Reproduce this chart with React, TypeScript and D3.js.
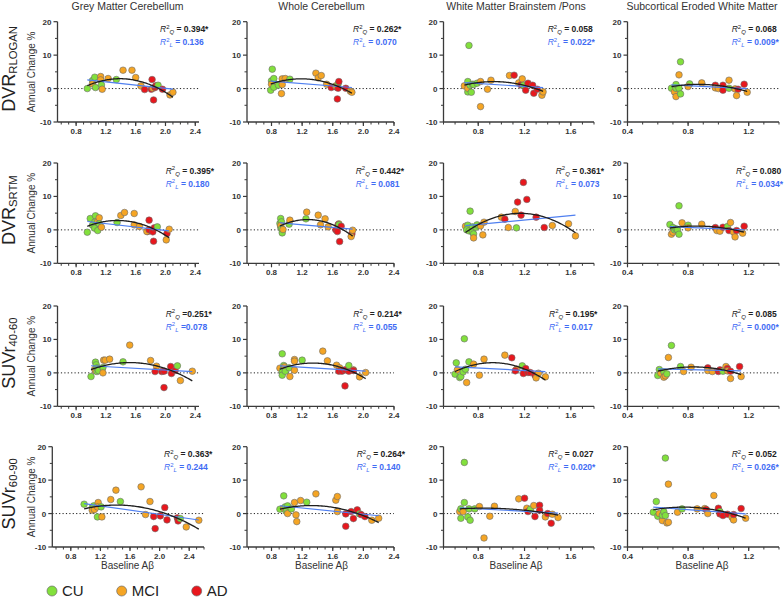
import React from 'react';
import * as d3 from 'd3';

// ---------- data ----------
const groups = ['CU', 'MCI', 'AD'];
const groupColors = ['#82e03c', '#f5a524', '#e8171d'];
const colTitles = ['Grey Matter Cerebellum', 'Whole Cerebellum', 'White Matter Brainstem /Pons', 'Subcortical Eroded White Matter'];
const rowMain = ['DVR', 'DVR', 'SUVr', 'SUVr'];
const rowSub = ['RLOGAN', 'SRTM', '40-60', '60-90'];
const yTicksMajor = [-10, 0, 10, 20];
const yTicksMinor = [-5, 5, 15];
const xTickLabels = [0.4, 0.8, 1.2, 1.6, 2.0, 2.4];

const rQ = [
  ['0.394*', '0.262*', '0.058', '0.068'],
  ['0.395*', '0.442*', '0.361*', '0.080'],
  ['0.251*', '0.214*', '0.195*', '0.085'],
  ['0.363*', '0.264*', '0.027', '0.052'],
];
const rL = [
  ['0.136', '0.070', '0.022*', '0.009*'],
  ['0.180', '0.081', '0.073', '0.034*'],
  ['0.078', '0.055', '0.017', '0.000*'],
  ['0.244', '0.140', '0.020*', '0.026*'],
];

type Pt = [number, number, number];

const p11: Pt[] = [[0.95,0.0,0],[1.02,2.4,0],[1.05,3.4,0],[1.02,1.4,1],[1.06,0.3,0],[1.13,3.6,1],[1.13,2.6,1],[1.14,1.1,0],[1.15,-0.2,1],[1.23,3.0,1],[1.34,2.7,0],[1.43,5.5,1],[1.55,5.5,1],[1.60,3.3,1],[1.67,0.8,1],[1.72,-0.3,2],[1.81,-0.2,2],[1.82,2.7,2],[1.84,-3.4,2],[1.83,0.1,1],[1.86,0.3,2],[1.87,0.8,2],[1.90,1.0,0],[1.96,-0.2,2],[2.06,-1.9,1],[2.10,-1.1,1]];
const p12: Pt[] = [[0.81,5.8,0],[0.79,-0.5,0],[0.80,2.3,0],[0.83,3.0,0],[0.80,1.3,1],[0.83,0.4,0],[0.89,1.0,0],[0.94,2.9,1],[0.98,3.0,1],[0.94,1.2,1],[0.93,-1.5,1],[1.04,2.8,0],[1.38,4.6,1],[1.41,3.2,1],[1.45,3.9,1],[1.52,1.3,1],[1.58,0.3,2],[1.65,0.4,2],[1.64,0.8,1],[1.67,1.4,0],[1.68,2.1,2],[1.66,-3.1,2],[1.67,0.1,2],[1.77,0.1,2],[1.83,-0.8,1],[1.85,-1.1,1]];
const p13: Pt[] = [[0.72,12.9,0],[0.68,0.8,1],[0.71,2.1,0],[0.71,-1.0,0],[0.71,0.1,1],[0.73,1.0,0],[0.74,-1.1,0],[0.75,1.3,0],[0.76,1.2,0],[0.79,1.6,0],[0.82,2.1,1],[0.82,-5.4,1],[0.88,-0.2,1],[0.91,2.5,1],[1.07,3.9,1],[1.11,4.0,2],[1.15,1.7,1],[1.17,1.1,2],[1.18,2.9,1],[1.19,1.0,0],[1.21,-0.5,2],[1.23,1.6,2],[1.27,1.0,2],[1.28,-1.4,2],[1.31,-0.2,2],[1.35,-2.0,1],[1.36,-1.0,1]];
const p14: Pt[] = [[0.69,0.1,0],[0.71,-1.0,1],[0.72,0.1,0],[0.72,1.2,0],[0.72,-2.4,1],[0.74,4.1,1],[0.75,8.0,0],[0.74,0.1,0],[0.75,-1.6,0],[0.81,1.4,0],[0.80,0.6,1],[0.89,1.7,1],[0.98,1.0,2],[0.98,0.2,1],[1.00,0.0,1],[1.03,1.0,2],[1.03,-0.5,2],[1.07,2.5,1],[1.07,0.1,0],[1.11,-0.1,1],[1.13,-0.2,2],[1.12,-2.1,1],[1.17,1.3,2],[1.19,-1.1,1]];

const p21: Pt[] = [[0.95,-0.7,0],[0.99,3.4,0],[1.06,4.2,0],[1.04,1.3,1],[1.05,2.3,0],[1.02,1.4,0],[1.05,0.5,0],[1.09,2.5,1],[1.11,3.6,1],[1.11,1.8,0],[1.09,-0.2,0],[1.14,0.8,1],[1.35,2.2,0],[1.40,4.3,1],[1.45,5.2,1],[1.58,4.9,1],[1.58,1.5,1],[1.65,1.0,1],[1.78,2.9,2],[1.76,-0.5,2],[1.75,-0.5,1],[1.78,0.0,2],[1.83,-0.6,2],[1.84,-3.4,2],[1.85,0.6,2],[1.89,0.9,0],[2.02,-1.1,2],[2.01,-3.0,1],[2.05,0.2,1]];
const p22: Pt[] = [[0.91,1.9,0],[0.92,3.4,0],[0.93,2.4,0],[0.92,0.9,0],[0.92,1.3,1],[0.93,0.3,0],[0.94,-0.9,0],[0.95,0.1,1],[1.03,1.7,0],[1.04,2.9,1],[1.25,3.3,0],[1.26,5.3,1],[1.41,4.4,1],[1.44,1.5,1],[1.50,3.3,1],[1.54,0.9,1],[1.64,0.0,2],[1.66,-0.5,2],[1.68,1.8,1],[1.67,1.5,2],[1.68,1.5,0],[1.71,1.1,2],[1.69,-3.5,2],[1.85,-1.2,2],[1.84,-2.0,1],[1.86,-0.1,1]];
const p23: Pt[] = [[0.69,1.1,1],[0.71,1.4,0],[0.70,0.0,0],[0.72,-0.3,0],[0.73,5.6,0],[0.75,0.9,0],[0.75,-0.7,0],[0.76,-1.2,0],[0.76,-2.4,1],[0.78,0.8,0],[0.79,1.5,0],[0.82,1.2,1],[0.84,-1.5,1],[0.85,2.3,1],[1.00,3.8,1],[1.03,3.2,2],[1.06,0.7,1],[1.12,5.5,1],[1.13,0.6,0],[1.14,8.3,2],[1.17,4.4,2],[1.19,14.2,2],[1.22,9.1,2],[1.30,3.8,2],[1.37,0.7,2],[1.44,1.3,1],[1.58,1.8,1],[1.64,-1.8,1]];
const p24: Pt[] = [[0.68,1.6,0],[0.69,-1.3,1],[0.70,0.7,0],[0.70,-0.7,1],[0.71,0.0,0],[0.72,0.3,0],[0.73,0.0,0],[0.74,7.2,0],[0.74,-1.3,0],[0.76,2.1,1],[0.80,1.4,0],[0.80,0.6,1],[0.89,1.7,1],[0.98,0.7,2],[0.99,-0.2,1],[1.01,-0.4,1],[1.03,0.8,2],[1.06,1.0,0],[1.08,2.2,1],[1.07,-0.2,2],[1.10,-0.7,1],[1.11,-2.1,1],[1.12,-0.2,2],[1.16,-1.0,1],[1.17,1.1,2]];

const p31: Pt[] = [[1.00,-1.1,0],[1.06,3.2,0],[1.05,1.1,1],[1.07,2.4,0],[1.06,0.6,1],[1.08,1.5,0],[1.08,0.4,0],[1.09,1.2,0],[1.10,0.7,0],[1.17,3.8,1],[1.19,3.8,1],[1.16,1.6,0],[1.16,0.0,1],[1.25,4.1,1],[1.43,3.3,0],[1.52,8.3,1],[1.80,3.7,1],[1.88,2.0,1],[1.86,0.4,2],[1.95,0.4,2],[1.98,0.5,2],[1.98,-4.4,2],[2.07,1.9,2],[2.08,-0.2,2],[2.13,0.7,2],[2.16,2.1,0],[2.20,-2.3,1],[2.36,0.5,1]];
const p32: Pt[] = [[0.94,5.7,0],[0.91,1.4,1],[0.96,2.2,0],[0.95,1.0,0],[0.94,0.2,0],[0.94,-0.7,0],[0.97,1.8,1],[0.98,0.5,0],[1.03,1.5,0],[1.04,-1.1,1],[1.10,4.0,1],[1.10,3.5,1],[1.10,0.8,1],[1.20,3.8,0],[1.47,6.5,1],[1.53,3.6,1],[1.65,2.3,1],[1.69,1.5,1],[1.68,0.5,2],[1.72,0.5,2],[1.76,0.9,2],[1.81,0.5,2],[1.81,2.2,0],[1.76,-3.9,2],[1.87,0.9,1],[1.87,0.7,2],[1.95,-1.2,1],[2.03,0.1,1]];
const p33: Pt[] = [[0.60,-0.4,0],[0.61,3.0,0],[0.62,0.9,1],[0.64,-1.4,0],[0.65,-1.1,0],[0.67,0.3,0],[0.68,10.2,0],[0.69,1.1,0],[0.70,-2.9,1],[0.72,3.3,0],[0.76,2.6,1],[0.81,-0.7,1],[0.85,4.1,1],[1.03,5.3,1],[1.09,4.5,2],[1.13,1.1,1],[1.12,0.6,2],[1.18,2.1,0],[1.19,-0.2,2],[1.21,1.3,2],[1.23,0.1,2],[1.25,0.1,2],[1.29,-0.7,2],[1.30,-1.5,1],[1.32,-0.1,1],[1.38,-1.2,1]];
const p34: Pt[] = [[0.60,-0.8,0],[0.61,1.0,0],[0.62,-0.1,1],[0.64,0.3,0],[0.64,-1.3,1],[0.65,-0.9,1],[0.66,-0.3,0],[0.67,4.6,1],[0.69,8.2,0],[0.75,1.9,0],[0.77,0.4,1],[0.82,1.7,1],[0.93,1.5,2],[0.93,0.7,1],[0.96,0.4,1],[1.00,0.4,2],[1.01,0.9,2],[1.03,0.5,0],[1.05,1.9,1],[1.06,1.3,2],[1.06,0.6,1],[1.08,0.5,2],[1.08,-1.7,1],[1.14,1.9,2],[1.15,-1.1,1]];

const p41: Pt[] = [[0.98,2.8,0],[1.09,1.8,0],[1.11,2.3,0],[1.09,1.0,1],[1.12,1.2,1],[1.17,3.3,1],[1.16,-1.0,0],[1.16,2.0,1],[1.21,2.0,0],[1.22,-1.0,1],[1.34,4.2,1],[1.41,7.0,1],[1.47,3.6,0],[1.75,8.0,1],[1.81,-0.3,1],[1.87,3.6,1],[1.92,-0.9,2],[1.94,-4.5,2],[2.01,-0.7,2],[2.07,1.8,2],[2.10,-1.9,2],[2.24,-1.3,2],[2.25,-2.2,2],[2.28,-1.5,0],[2.36,-4.0,1],[2.53,-2.0,1]];
const p42: Pt[] = [[0.91,1.3,0],[0.96,5.3,0],[0.96,1.6,1],[0.98,2.0,0],[0.99,0.7,0],[1.00,1.2,0],[1.01,2.3,0],[1.01,0.0,1],[1.06,1.4,0],[1.10,3.3,1],[1.12,-0.4,1],[1.13,-2.4,1],[1.18,3.9,1],[1.26,3.4,0],[1.38,5.9,1],[1.64,4.0,1],[1.66,5.1,1],[1.66,0.6,1],[1.77,-0.1,2],[1.77,-3.8,2],[1.84,0.6,2],[1.87,-1.5,2],[1.92,1.1,2],[1.95,-0.1,0],[1.97,-0.3,2],[2.02,-0.9,2],[2.11,-2.0,1],[2.20,-1.4,1]];
const p43: Pt[] = [[0.68,15.3,0],[0.64,0.6,1],[0.65,1.4,0],[0.65,-1.4,0],[0.68,3.3,0],[0.67,0.6,1],[0.71,-1.0,0],[0.72,1.4,0],[0.73,-2.0,0],[0.77,1.4,0],[0.81,2.1,1],[0.85,-7.3,1],[0.90,-0.8,1],[0.94,2.2,1],[1.15,4.4,1],[1.20,4.6,2],[1.22,1.6,1],[1.23,0.6,2],[1.25,1.3,0],[1.28,2.4,1],[1.29,-0.9,2],[1.33,2.5,2],[1.33,1.0,2],[1.38,-1.0,1],[1.40,0.0,2],[1.43,-2.9,2],[1.44,-0.2,1],[1.49,-1.2,1]];
const p44: Pt[] = [[0.57,0.4,0],[0.59,3.6,0],[0.60,-0.8,0],[0.61,0.0,1],[0.63,-2.1,1],[0.63,-0.5,0],[0.64,0.5,0],[0.65,-0.6,0],[0.65,16.6,0],[0.66,-2.8,1],[0.67,-2.6,1],[0.67,8.8,1],[0.73,0.4,1],[0.76,1.4,0],[0.86,1.4,1],[0.91,1.5,1],[0.92,1.2,2],[0.93,0.0,1],[0.97,5.4,1],[1.00,1.6,2],[1.01,0.6,0],[1.01,-0.1,2],[1.03,-0.6,2],[1.06,-0.2,2],[1.09,-1.1,1],[1.10,-1.9,1],[1.10,-0.3,2],[1.15,1.5,2],[1.18,-1.4,1]];

const panels: Pt[][][] = [
  [p11, p12, p13, p14],
  [p21, p22, p23, p24],
  [p31, p32, p33, p34],
  [p41, p42, p43, p44],
];

// x domains per column (row 4 of column 1 differs)
const xDomains: [number, number][][] = [
  [[0.55, 2.45], [0.48, 2.4], [0.5, 1.8], [0.4, 1.4]],
  [[0.55, 2.45], [0.48, 2.4], [0.5, 1.8], [0.4, 1.4]],
  [[0.55, 2.45], [0.48, 2.4], [0.5, 1.8], [0.4, 1.4]],
  [[0.55, 2.6], [0.48, 2.4], [0.5, 1.8], [0.4, 1.4]],
];

// ---------- layout ----------
const W = 784, H = 598;
const rowTop = [21.7, 163, 306, 446.7];
const rowH = 100.3;
const colRange: [number, number][][] = [
  [[57.5, 199], [247, 394], [443.5, 594], [627.5, 779]],
  [[57.5, 199], [247, 394], [443.5, 594], [627.5, 779]],
  [[57.5, 199], [247, 394], [443.5, 594], [627.5, 779]],
  [[52.3, 204], [247, 394], [443.5, 594], [627.5, 779]],
];
const textX = [
  [160, 353, 547.7, 731.7],
  [165.7, 355.7, 555.7, 736],
  [165.7, 353.3, 549, 731.7],
  [164, 356.7, 548.3, 731.7],
];
const titleX = [127.5, 321.5, 516, 702];
const FONT = 'Arial, "Liberation Sans", Helvetica, sans-serif';
const AXIS = '#3a3a3a';
const BLUE = '#3f6cf4';
const BLUE_LINE = '#4f7ff0';

function polyfit(xs: number[], ys: number[], deg: number): number[] {
  const n = deg + 1;
  const A: number[][] = Array.from({ length: n }, () => Array(n + 1).fill(0));
  for (let i = 0; i < xs.length; i++) {
    for (let r = 0; r < n; r++) {
      for (let c = 0; c < n; c++) A[r][c] += Math.pow(xs[i], r + c);
      A[r][n] += ys[i] * Math.pow(xs[i], r);
    }
  }
  for (let i = 0; i < n; i++) {
    let m = i;
    for (let k = i + 1; k < n; k++) if (Math.abs(A[k][i]) > Math.abs(A[m][i])) m = k;
    [A[i], A[m]] = [A[m], A[i]];
    for (let k = i + 1; k < n; k++) {
      const f = A[k][i] / A[i][i];
      for (let j = i; j <= n; j++) A[k][j] -= f * A[i][j];
    }
  }
  const coef = Array(n).fill(0);
  for (let i = n - 1; i >= 0; i--) {
    let s = A[i][n];
    for (let j = i + 1; j < n; j++) s -= A[i][j] * coef[j];
    coef[i] = s / A[i][i];
  }
  return coef;
}

function Panel({ r, c }: { r: number; c: number }) {
  const data = panels[r][c];
  const dom = xDomains[r][c];
  const rng = colRange[r][c];
  const x = d3.scaleLinear().domain(dom).range(rng);
  const y = d3.scaleLinear().domain([-10, 20]).range([rowTop[r] + rowH, rowTop[r]]);
  const x0 = rng[0];
  const yb = rowTop[r] + rowH;

  const xs = data.map((d) => d[0]);
  const ys = data.map((d) => d[1]);
  const [xmin, xmax] = d3.extent(xs) as [number, number];
  const q = polyfit(xs, ys, 2);
  const l = polyfit(xs, ys, 1);
  const samples = d3.range(0, 81).map((i) => xmin + ((xmax - xmin) * i) / 80);
  const qPath = d3.line<number>().x((v) => x(v)).y((v) => y(q[0] + q[1] * v + q[2] * v * v))(samples) || '';
  const lPath = d3.line<number>().x((v) => x(v)).y((v) => y(l[0] + l[1] * v))([xmin, xmax]) || '';

  const minor: number[] = [];
  for (let t = Math.ceil(dom[0] * 10 - 1e-6); t <= Math.floor(dom[1] * 10 + 1e-6); t++) minor.push(t / 10);
  const major = xTickLabels.filter((t) => t >= dom[0] - 1e-6 && t <= dom[1] + 1e-6);

  const tx = textX[r][c];
  const ty = rowTop[r] + 10.5;
  const eq = r === 2 && c === 0 ? ' =' : ' = ';
  return (
    <g>
      {/* zero line */}
      <line x1={x0} x2={rng[1]} y1={y(0)} y2={y(0)} stroke="#222" strokeWidth={1} strokeDasharray="1.2,2.2" />
      {/* y axis */}
      <line x1={x0} x2={x0} y1={y(20)} y2={y(-10)} stroke={AXIS} strokeWidth={1.3} />
      {yTicksMajor.map((t) => (
        <g key={'ym' + t}>
          <line x1={x0 - 4} x2={x0} y1={y(t)} y2={y(t)} stroke={AXIS} strokeWidth={1.2} />
          <text x={x0 - 6} y={y(t) + 3} textAnchor="end" fontSize={8} fontWeight="bold" fill="#333" fontFamily={FONT}>{t}</text>
        </g>
      ))}
      {yTicksMinor.map((t) => (
        <line key={'yn' + t} x1={x0 - 2.5} x2={x0} y1={y(t)} y2={y(t)} stroke={AXIS} strokeWidth={1} />
      ))}
      {/* x axis */}
      <line x1={x0} x2={rng[1]} y1={yb} y2={yb} stroke={AXIS} strokeWidth={1.3} />
      {minor.map((t) => (
        <line key={'xn' + t} x1={x(t)} x2={x(t)} y1={yb} y2={yb + 2.5} stroke={AXIS} strokeWidth={1} />
      ))}
      {major.map((t) => (
        <g key={'xm' + t}>
          <line x1={x(t)} x2={x(t)} y1={yb} y2={yb + 4} stroke={AXIS} strokeWidth={1.2} />
          <text x={x(t)} y={yb + 12} textAnchor="middle" fontSize={8} fontWeight="bold" fill="#333" fontFamily={FONT}>{t.toFixed(1)}</text>
        </g>
      ))}
      {/* points */}
      {data.map((d, i) => (
        <circle key={i} cx={x(d[0])} cy={y(d[1])} r={3.3} fill={groupColors[d[2]]} stroke="#6b6b6b" strokeWidth={0.6} />
      ))}
      {/* fits */}
      <path d={lPath} fill="none" stroke={BLUE_LINE} strokeWidth={1.2} />
      <path d={qPath} fill="none" stroke="#1e1e1e" strokeWidth={1.3} />
      {/* R2 labels */}
      <text x={tx} y={ty} fontSize={8.5} fill="#222" fontFamily={FONT}>
        <tspan fontStyle="italic">R</tspan>
        <tspan fontSize={6} dy={-3.3}>2</tspan>
        <tspan fontSize={6} dy={5.3} fontStyle="italic">Q</tspan>
        <tspan fontWeight="bold" dy={-2}>{eq}{rQ[r][c]}</tspan>
      </text>
      <text x={tx} y={ty + 13} fontSize={8.5} fill={BLUE} fontFamily={FONT}>
        <tspan fontStyle="italic">R</tspan>
        <tspan fontSize={6} dy={-3.3}>2</tspan>
        <tspan fontSize={6} dy={5.3} fontStyle="italic">L</tspan>
        <tspan fontWeight="bold" dy={-2}>{eq}{rL[r][c]}</tspan>
      </text>
    </g>
  );
}

export default function App() {
  const legendX = [52, 121.7, 196.7];
  return (
    <svg width={W} height={H} style={{ position: 'absolute', left: 0, top: 0, background: '#fff' }}>
      <rect width={W} height={H} fill="#fff" />
      {colTitles.map((t, c) => (
        <text key={t} x={titleX[c]} y={10} textAnchor="middle" fontSize={10.5} fill="#333" fontFamily={FONT}>{t}</text>
      ))}
      {rowMain.map((m, r) => {
        const cy = rowTop[r] + rowH / 2;
        return (
          <g key={'row' + r}>
            <text transform={`translate(15,${cy - 3}) rotate(-90)`} textAnchor="middle" fontFamily={FONT} fill="#222">
              <tspan fontSize={18}>{m}</tspan>
              <tspan fontSize={11.3} dy={2}>{rowSub[r]}</tspan>
            </text>
            <text transform={`translate(34.5,${cy}) rotate(-90)`} textAnchor="middle" fontFamily={FONT} fontSize={10} fill="#333">Annual Change %</text>
          </g>
        );
      })}
      {[0, 1, 2, 3].map((r) => [0, 1, 2, 3].map((c) => <Panel key={`${r}-${c}`} r={r} c={c} />))}
      {titleX.map((cx, c) => (
        <text key={'xl' + c} x={cx} y={569} textAnchor="middle" fontSize={10} fill="#333" fontFamily={FONT}>Baseline Aβ</text>
      ))}
      {groups.map((g, i) => (
        <g key={g}>
          <circle cx={legendX[i]} cy={591} r={5} fill={groupColors[i]} stroke="#6b6b6b" strokeWidth={0.7} />
          <text x={legendX[i] + 10} y={596} fontSize={15} fill="#222" fontFamily={FONT}>{g}</text>
        </g>
      ))}
    </svg>
  );
}
